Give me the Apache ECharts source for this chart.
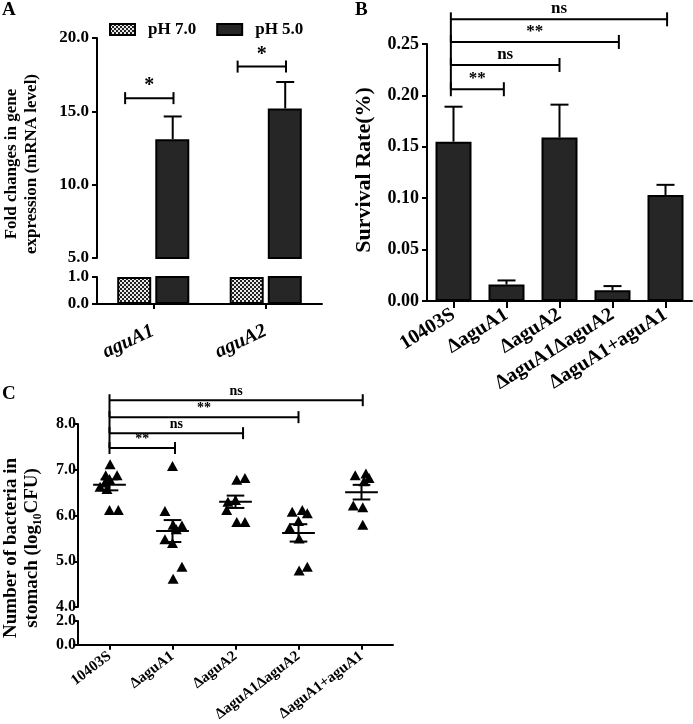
<!DOCTYPE html>
<html><head><meta charset="utf-8">
<script src="https://cdn.jsdelivr.net/npm/echarts@6/dist/echarts.min.js"></script>
<style>html,body{margin:0;padding:0;background:#fff}#c{width:693px;height:724px}</style>
</head><body><div id="c"></div>
<script>
// ---------------- data ----------------
// Panel A
const genesA = ['aguA1', 'aguA2'];
const ph7Values = [1.0, 1.0];
const ph5Values = [13.1, 15.2];
const ph5Errors = [1.55, 1.8];
const sigA = [[-0.25, 0.18, 15.9, '*'], [0.75, 1.18, 18.05, '*']];
// Panel B
const strainsB = ['10403S', 'ΔaguA1', 'ΔaguA2', 'ΔaguA1ΔaguA2', 'ΔaguA1+aguA1'];
const survivalValues = [0.155, 0.016, 0.159, 0.0105, 0.103];
const survivalErrors = [0.034, 0.004, 0.032, 0.004, 0.010];
const sigB = [[-0.05, 0.95, 0.206, '**'], [-0.05, 2.0, 0.2296, 'ns'], [-0.05, 3.12, 0.252, '**'], [-0.05, 4.03, 0.274, 'ns']];
// Panel C  ([offset within group, log10 CFU])
const strainsC = ['10403S', 'ΔaguA1', 'ΔaguA2', 'ΔaguA1ΔaguA2', 'ΔaguA1+aguA1'];
const cfu10403S = [[0.01, 7.12], [-0.06, 6.88], [0.12, 6.88], [0.0, 6.8], [-0.07, 6.72], [-0.15, 6.63], [-0.04, 6.58], [0.0, 6.12], [0.14, 6.12]];
const cfuAguA1 = [[0.0, 7.08], [-0.12, 6.1], [0.01, 5.8], [0.15, 5.78], [0.06, 5.7], [-0.12, 5.48], [0.0, 5.4], [0.15, 4.88], [0.01, 4.62]];
const cfuAguA2 = [[0.02, 6.78], [0.15, 6.82], [-0.12, 6.3], [0.0, 6.34], [-0.14, 6.12], [0.02, 5.86], [0.15, 5.86]];
const cfuDouble = [[-0.1, 6.08], [0.06, 6.12], [0.14, 6.05], [0.0, 5.88], [-0.14, 5.73], [0.01, 5.5], [0.01, 4.8], [0.14, 4.88]];
const cfuComp = [[-0.1, 6.88], [0.07, 6.92], [0.12, 6.82], [0.04, 6.75], [-0.13, 6.22], [0.02, 6.18], [0.02, 5.8]];
const cfuMeans = [6.67, 5.66, 6.30, 5.62, 6.51];
const cfuSems = [0.12, 0.24, 0.135, 0.19, 0.16];
const sigC = [[0, 1.04, 7.475, '**'], [0, 2.12, 7.80, 'ns'], [0, 3.0, 8.15, '**'], [0, 4.02, 8.52, 'ns']];

// ---------------- styles ----------------
const FF = 'Liberation Serif';
const DARK = '#262626';
const pc = document.createElement('canvas'); pc.width = 4; pc.height = 4;
const g = pc.getContext('2d');
g.fillStyle = '#e8e8e8'; g.fillRect(0, 0, 4, 4);
g.fillStyle = '#222'; g.fillRect(0, 0, 2, 2); g.fillRect(2, 2, 2, 2);
const checker = { image: pc, repeat: 'repeat' };
const BAR_OFF_A = 0.173;

const lineStyle = { stroke: '#000', lineWidth: 2 };
function ln(x1, y1, x2, y2) { return { type: 'line', shape: { x1, y1, x2, y2 }, style: lineStyle }; }

function errRender(offset, capHalf) {
  return function (params, api) {
    const x = api.value(0) + offset, v = api.value(1), e = api.value(2);
    const p0 = api.coord([x, v]), p1 = api.coord([x, v + e]);
    return { type: 'group', children: [ln(p0[0], p0[1], p1[0], p1[1]), ln(p1[0] - capHalf, p1[1], p1[0] + capHalf, p1[1])] };
  };
}
function bracketRender(sig, fontSize, tick, connect) {
  return function (params, api) {
    const i = params.dataIndex;
    const a = api.coord([api.value(0), api.value(2)]), b = api.coord([api.value(1), api.value(2)]);
    let leftBottom = a[1] + tick;
    if (connect && i > 0) leftBottom = api.coord([sig[i - 1][0], sig[i - 1][2]])[1];
    return { type: 'group', children: [
      ln(a[0], a[1], b[0], b[1]),
      ln(a[0], a[1] - tick, a[0], leftBottom),
      ln(b[0], b[1] - tick, b[0], b[1] + tick),
      { type: 'text', x: (a[0] + b[0]) / 2, y: a[1] - 2,
        style: { text: sig[i][3], fill: '#000', font: 'bold ' + fontSize + 'px "' + FF + '"', textAlign: 'center', textVerticalAlign: 'bottom' } }
    ] };
  };
}
function meanRender(params, api) {
  const i = api.value(0), m = api.value(1), s = api.value(2);
  const w = api.size([1, 0])[0];
  const pm = api.coord([i, m]), pu = api.coord([i, m + s]), pl = api.coord([i, m - s]);
  const mh = 0.26 * w, ch = 0.14 * w;
  return { type: 'group', children: [
    ln(pm[0] - mh, pm[1], pm[0] + mh, pm[1]),
    ln(pu[0], pu[1], pl[0], pl[1]),
    ln(pu[0] - ch, pu[1], pu[0] + ch, pu[1]),
    ln(pl[0] - ch, pl[1], pl[0] + ch, pl[1])
  ] };
}

const tickFont = (size) => ({ fontFamily: FF, fontWeight: 'bold', fontSize: size, color: '#000' });
const axLine = { show: true, onZero: false, lineStyle: { color: '#000', width: 2 } };
const axTick = (len) => ({ show: true, length: len, lineStyle: { color: '#000', width: 2 } });
const hiddenVal = (grid, n) => ({ type: 'value', gridIndex: grid, min: -0.5, max: n - 0.5, show: false, splitLine: { show: false }, axisLine: { onZero: false } });
const yVal = (grid, min, max, interval, digits, size, margin) => ({
  type: 'value', gridIndex: grid, min, max, interval, axisLine: axLine, axisTick: axTick(5),
  splitLine: { show: false }, axisLabel: Object.assign({ margin, formatter: v => v.toFixed(digits) }, tickFont(size))
});

const option = {
  animation: false,
  backgroundColor: '#fff',
  grid: [
    { left: 97, top: 38, width: 225, height: 220 },
    { left: 97, top: 277, width: 225, height: 27 },
    { left: 427, top: 44, width: 265, height: 257 },
    { left: 78, top: 424, width: 315, height: 183 },
    { left: 78, top: 621, width: 315, height: 24 }
  ],
  legend: {
    data: ['pH 7.0', 'pH 5.0'], left: 104, top: 16, icon: 'rect', itemWidth: 25, itemHeight: 11, itemGap: 20,
    textStyle: Object.assign({ padding: [0, 0, 0, 8] }, tickFont(17))
  },
  xAxis: [
    { type: 'category', gridIndex: 0, data: genesA, show: false },
    { type: 'category', gridIndex: 1, data: genesA, axisLine: axLine, axisTick: Object.assign(axTick(5), { alignWithLabel: true }),
      axisLabel: Object.assign({ rotate: 25, margin: 26, fontStyle: 'italic' }, tickFont(20)) },
    hiddenVal(0, genesA.length),
    { type: 'category', gridIndex: 2, data: strainsB, axisLine: axLine, axisTick: Object.assign(axTick(7), { alignWithLabel: true }),
      axisLabel: Object.assign({ rotate: 32, margin: 12 }, tickFont(20)) },
    hiddenVal(2, strainsB.length),
    hiddenVal(3, strainsC.length),
    { type: 'category', gridIndex: 4, data: strainsC, axisLine: axLine, axisTick: Object.assign(axTick(5), { alignWithLabel: true }),
      axisLabel: Object.assign({ rotate: 37, margin: 10 }, tickFont(15)) }
  ],
  yAxis: [
    yVal(0, 5, 20, 5, 1, 17, 8),
    yVal(1, 0, 1, 1, 1, 17, 8),
    yVal(2, 0, 0.25, 0.05, 2, 18, 8),
    yVal(3, 4, 8, 1, 1, 16, 2),
    yVal(4, 0, 2, 2, 1, 16, 2)
  ],
  series: [
    // Panel A bars (upper and lower segments of the broken axis)
    { type: 'bar', name: 'pH 7.0', xAxisIndex: 0, yAxisIndex: 0, data: ph7Values, barWidth: 34, barGap: '12%',
      itemStyle: { color: checker, borderColor: '#000', borderWidth: 2 } },
    { type: 'bar', name: 'pH 5.0', xAxisIndex: 0, yAxisIndex: 0, data: ph5Values, barWidth: 34, barGap: '12%',
      itemStyle: { color: DARK, borderColor: '#000', borderWidth: 2 } },
    { type: 'bar', name: 'pH 7.0', xAxisIndex: 1, yAxisIndex: 1, data: ph7Values, barWidth: 34, barGap: '12%',
      itemStyle: { color: checker, borderColor: '#000', borderWidth: 2 } },
    { type: 'bar', name: 'pH 5.0', xAxisIndex: 1, yAxisIndex: 1, data: ph5Values, barWidth: 34, barGap: '12%',
      itemStyle: { color: DARK, borderColor: '#000', borderWidth: 2 } },
    { type: 'custom', xAxisIndex: 2, yAxisIndex: 0, z: 5, renderItem: errRender(BAR_OFF_A, 9),
      data: ph5Values.map((v, i) => [i, v, ph5Errors[i]]) },
    { type: 'custom', xAxisIndex: 2, yAxisIndex: 0, z: 5, renderItem: bracketRender(sigA, 20, 6, false),
      data: sigA.map(s => [s[0], s[1], s[2]]) },
    // Panel B
    { type: 'bar', xAxisIndex: 3, yAxisIndex: 2, data: survivalValues, barWidth: 36,
      itemStyle: { color: DARK, borderColor: '#000', borderWidth: 2 } },
    { type: 'custom', xAxisIndex: 4, yAxisIndex: 2, z: 5, renderItem: errRender(0, 9),
      data: survivalValues.map((v, i) => [i, v, survivalErrors[i]]) },
    { type: 'custom', xAxisIndex: 4, yAxisIndex: 2, z: 5, renderItem: bracketRender(sigB, 17, 7, true),
      data: sigB.map(s => [s[0], s[1], s[2]]) },
    // Panel C
    { type: 'scatter', xAxisIndex: 5, yAxisIndex: 3, symbol: 'triangle', symbolSize: [11, 10],
      itemStyle: { color: '#000', opacity: 1 },
      data: [cfu10403S, cfuAguA1, cfuAguA2, cfuDouble, cfuComp].flatMap((grp, gi) => grp.map(p => [gi + p[0], p[1]])) },
    { type: 'custom', xAxisIndex: 5, yAxisIndex: 3, z: 5, renderItem: meanRender,
      data: cfuMeans.map((m, i) => [i, m, cfuSems[i]]) },
    { type: 'custom', xAxisIndex: 5, yAxisIndex: 3, z: 5, renderItem: bracketRender(sigC, 14, 6, true),
      data: sigC.map(s => [s[0], s[1], s[2]]) }
  ],
  graphic: [
    { type: 'text', left: 2, top: 1, style: { text: 'A', font: 'bold 19px "' + FF + '"', fill: '#000' } },
    { type: 'text', left: 355, top: 1, style: { text: 'B', font: 'bold 19px "' + FF + '"', fill: '#000' } },
    { type: 'text', left: 2, top: 385, style: { text: 'C', font: 'bold 19px "' + FF + '"', fill: '#000' } },
    { type: 'text', x: 22, y: 164, rotation: Math.PI / 2,
      style: { text: 'Fold changes in gene\nexpression (mRNA level)', font: 'bold 17px "' + FF + '"', fill: '#000', textAlign: 'center', textVerticalAlign: 'middle', lineHeight: 20 } },
    { type: 'text', x: 364, y: 170, rotation: Math.PI / 2,
      style: { text: 'Survival Rate(%)', font: 'bold 22px "' + FF + '"', fill: '#000', textAlign: 'center', textVerticalAlign: 'middle' } },
    { type: 'text', x: 22, y: 548, rotation: Math.PI / 2,
      style: { text: 'Number of bacteria in\nstomach (log₁₀CFU)', font: 'bold 19px "' + FF + '"', fill: '#000', textAlign: 'center', textVerticalAlign: 'middle', lineHeight: 21 } }
  ]
};
const chart = echarts.init(document.getElementById('c'), null, { renderer: 'canvas' });
chart.setOption(option);
</script></body></html>
